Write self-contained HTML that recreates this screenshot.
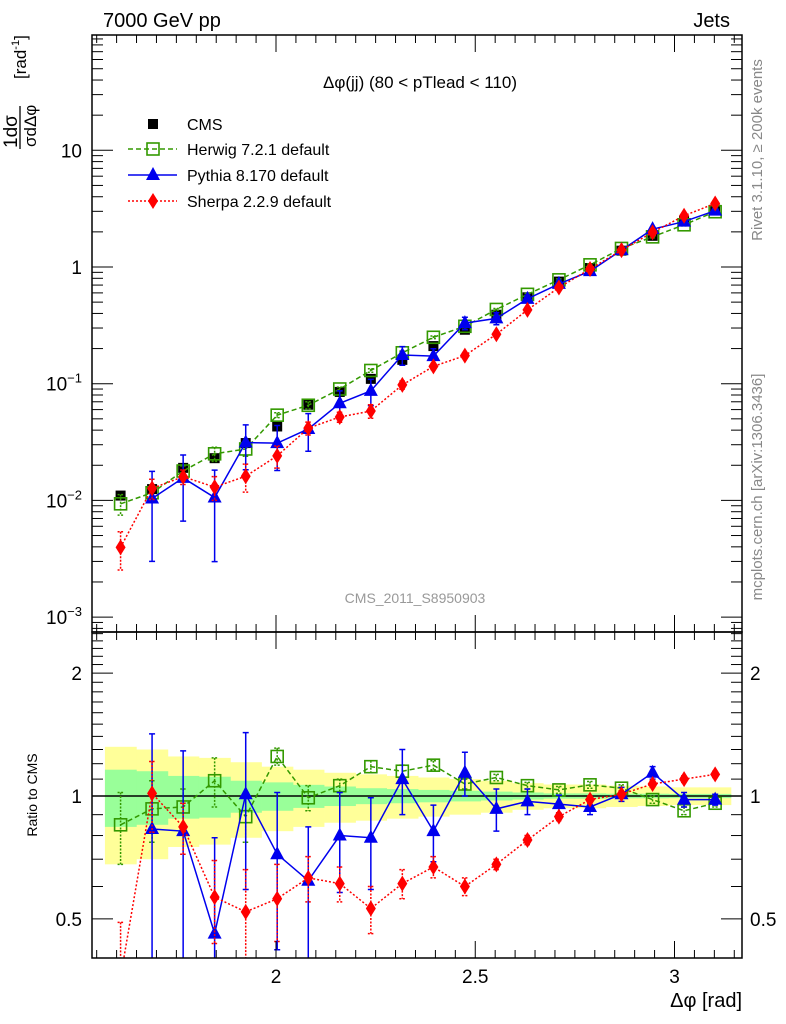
<!DOCTYPE html>
<html><head><meta charset="utf-8"><style>
html,body{margin:0;padding:0;background:#fff;overflow:hidden;width:786px;height:1024px;position:relative}
svg{display:block;font-family:"Liberation Sans",sans-serif}
</style></head><body>
<svg id="c" width="786" height="1024" viewBox="0 0 786 1024" xmlns="http://www.w3.org/2000/svg" style="position:absolute;left:0;top:0;overflow:hidden"></svg>
<script>
// ---- data ----
const binCenters = [1.610,1.689,1.767,1.846,1.924,2.003,2.081,2.160,2.238,2.317,2.395,2.474,2.553,2.631,2.710,2.788,2.867,2.945,3.024,3.102];
const cmsValues = [0.011,0.0125,0.019,0.023,0.031,0.043,0.066,0.085,0.11,0.16,0.21,0.29,0.39,0.55,0.75,0.98,1.38,1.85,2.5,3.1];
const cmsTotErr = [0.32,0.30,0.25,0.24,0.21,0.18,0.16,0.14,0.13,0.12,0.11,0.10,0.09,0.075,0.067,0.067,0.06,0.055,0.05,0.05];
const cmsStatErr = [0.16,0.15,0.12,0.115,0.09,0.08,0.065,0.055,0.045,0.04,0.035,0.03,0.025,0.02,0.015,0.015,0.013,0.013,0.012,0.012];
const herwigRatio = [0.85,0.93,0.94,1.09,0.89,1.25,0.99,1.06,1.18,1.15,1.19,1.07,1.11,1.06,1.035,1.065,1.045,0.98,0.92,0.96];
const herwigErr = [0.17,0.16,0.1,0.15,0.12,0.06,0.07,0.04,0.04,0.04,0.03,0.03,0.02,0.02,0.02,0.02,0.02,0.02,0.02,0.02];
const pythiaRatio = [null,0.83,0.82,0.46,1.01,0.72,0.62,0.80,0.79,1.10,0.82,1.14,0.93,0.97,0.955,0.94,1.01,1.14,0.98,0.98];
const pythiaErr = [0,0.59,0.47,0.33,0.42,0.3,0.22,0.22,0.2,0.2,0.13,0.14,0.11,0.07,0.05,0.04,0.04,0.04,0.04,0.03];
const sherpaRatio = [0.36,1.015,0.84,0.565,0.52,0.56,0.63,0.61,0.53,0.61,0.67,0.60,0.68,0.78,0.89,0.98,1.01,1.07,1.10,1.13];
const sherpaErr = [0.13,0.2,0.12,0.13,0.14,0.12,0.08,0.06,0.07,0.05,0.04,0.03,0.02,0.02,0.02,0.02,0.02,0.02,0.02,0.02];
const mainTicks = [0.001,0.01,0.1,1,10];
const mainTickLabels = ["10|-3","10|-2","10|-1","1","10"];
const ratioTicks = [0.5,1,2];
const ratioTickLabels = ["0.5","1","2"];
const xTicks = [2,2.5,3];
const xTickLabels = ["2","2.5","3"];

// ---- geometry ----
const L=92,R=742,T=35,MB=632,RB=958;
const binW=Math.PI/40;
const X=v=>276+(v-2)*398.5;
const YM=v=>267-116.7*Math.log10(v);
const YR=v=>796-408*Math.log10(v);
const NS="http://www.w3.org/2000/svg";
const svg=document.getElementById('c');
function mk(tag,attrs,parent){const e=document.createElementNS(NS,tag);for(const k in attrs)e.setAttribute(k,attrs[k]);(parent||svg).appendChild(e);return e;}
function txt(s,attrs,parent){const e=mk('text',attrs,parent);e.textContent=s;return e;}

const defs=mk('defs',{});
const c1=mk('clipPath',{id:'cm'},defs);mk('rect',{x:L,y:T,width:R-L,height:MB-T},c1);
const c2=mk('clipPath',{id:'cr'},defs);mk('rect',{x:L,y:MB,width:R-L,height:RB-MB},c2);

const gMain=mk('g',{'clip-path':'url(#cm)'});


const gRat=mk('g',{'clip-path':'url(#cr)'});



binCenters.forEach((c,i)=>{
  const x0=X(c-binW/2),x1=X(c+binW/2);
  const y=mk('rect',{x:x0,y:YR(1+cmsTotErr[i]),width:x1-x0+0.5,height:YR(1-cmsTotErr[i])-YR(1+cmsTotErr[i]),fill:'#ffff99'},gRat);
  
  
});
binCenters.forEach((c,i)=>{
  const x0=X(c-binW/2),x1=X(c+binW/2);
  const g=mk('rect',{x:x0,y:YR(1+cmsStatErr[i]),width:x1-x0+0.5,height:YR(1-cmsStatErr[i])-YR(1+cmsStatErr[i]),fill:'#99ff99'},gRat);
  
  
});
const one=mk('line',{x1:L,x2:R,y1:YR(1),y2:YR(1),stroke:'#000','stroke-width':1.5},gRat);



binCenters.forEach((c,i)=>{
  const v=cmsValues[i];
  const s=mk('rect',{x:X(c)-5,y:YM(v)-5,width:10,height:10,fill:'#000'},gMain);
  
  
});

function series(ratio,err,color,dash,marker,name){
  const ptsM=[],ptsR=[];
  binCenters.forEach((c,i)=>{if(ratio[i]==null)return;ptsM.push([X(c),YM(cmsValues[i]*ratio[i])]);ptsR.push([X(c),Math.min(YR(ratio[i]),RB+20)]);});
  [[gMain,ptsM,YM,true],[gRat,ptsR,YR,false]].forEach(([g,pts,yf,isMain])=>{
    const pl=mk('polyline',{points:pts.map(p=>p.join(',')).join(' '),fill:'none',stroke:color,'stroke-width':1.5,'stroke-dasharray':dash},g);
    
    
    const bottom=isMain?MB:RB;
    binCenters.forEach((c,i)=>{
      if(ratio[i]==null)return;
      const x=X(c);
      const hi=isMain?yf(cmsValues[i]*(ratio[i]+err[i])):yf(ratio[i]+err[i]);
      const lov=ratio[i]-err[i];
      let lo=lov>0?(isMain?yf(cmsValues[i]*lov):yf(lov)):bottom+2;
      lo=Math.min(lo,bottom+2);
      const eb=mk('path',{d:`M${x},${hi}V${lo}M${x-3},${hi}H${x+3}M${x-3},${lo}H${x+3}`,stroke:color,'stroke-width':1.5,'stroke-dasharray':dash==='none'?'none':'2,1.5',fill:'none'},g);
      
      
      const y=isMain?yf(cmsValues[i]*ratio[i]):yf(ratio[i]);
      if(y<bottom+10) drawMarker(g,marker,x,y,color,name);
    });
  });
}
function drawMarker(g,marker,x,y,color,name){
  let m;
  if(marker==='sq') m=mk('rect',{x:x-6,y:y-6,width:12,height:12,fill:'none',stroke:color,'stroke-width':1.6},g);
  else if(marker==='tri') m=mk('path',{d:`M${x},${y-8}L${x+7},${y+5}L${x-7},${y+5}Z`,fill:color},g);
  else m=mk('path',{d:`M${x},${y-8}L${x+5},${y}L${x},${y+8}L${x-5},${y}Z`,fill:color},g);
  
  
  return m;
}
series(herwigRatio,herwigErr,'#339900','5,3','sq','herwig');
series(pythiaRatio,pythiaErr,'#0000ee','none','tri','pythia');
series(sherpaRatio,sherpaErr,'#ff0000','2,2','dia','sherpa');

const f1=mk('rect',{x:L,y:T,width:R-L,height:MB-T,fill:'none',stroke:'#000','stroke-width':1.5});

const f2=mk('rect',{x:L,y:MB,width:R-L,height:RB-MB,fill:'none',stroke:'#000','stroke-width':1.5});


const tk=mk('g',{stroke:'#000','stroke-width':1});

for(let e=-4;e<=2;e++)for(let m=1;m<10;m++){const v=m*Math.pow(10,e);const y=YM(v);if(y<T||y>MB)continue;const len=m===1?21:11;
  mk('line',{x1:L,x2:L+len,y1:y,y2:y},tk);mk('line',{x1:R,x2:R-len,y1:y,y2:y},tk);}
for(let v=0.4;v<=2.55;v+=0.1){const y=YR(v);if(y<MB||y>RB)continue;const maj=Math.abs(v-0.5)<1e-6||Math.abs(v-1)<1e-6||Math.abs(v-2)<1e-6;const len=maj?21:11;
  mk('line',{x1:L,x2:L+len,y1:y,y2:y},tk);mk('line',{x1:R,x2:R-len,y1:y,y2:y},tk);}
for(let v=1.55;v<=3.17;v+=0.05){const x=X(v);if(x<L||x>R)continue;const maj=Math.abs(v*2-Math.round(v*2))<1e-6;const len=maj?17:8;
  [T,MB].forEach(y0=>mk('line',{x1:x,x2:x,y1:y0,y2:y0+len},tk));[MB,RB].forEach(y0=>mk('line',{x1:x,x2:x,y1:y0,y2:y0-len},tk));}

mainTicks.forEach((v,i)=>{
  const [b,s]=mainTickLabels[i].split('|');
  const t=txt('',{x:82,y:YM(v)+7,'font-size':19,'text-anchor':'end'});
  
  if(s){const a=mk('tspan',{},t);a.textContent=b;const sp=mk('tspan',{dy:-8,'font-size':13},t);sp.textContent='−'+s.slice(1);}
  else t.textContent=b;
});
ratioTicks.forEach((v,i)=>{
  const a=txt(ratioTickLabels[i],{x:82,y:YR(v)+7,'font-size':19,'text-anchor':'end'});
  
  const b=txt(ratioTickLabels[i],{x:750,y:YR(v)+7,'font-size':19});
  
});
xTicks.forEach((v,i)=>{
  const a=txt(xTickLabels[i],{x:X(v),y:983,'font-size':19,'text-anchor':'middle'});
  
});

const lg=mk('g',{});

const legendNames=["CMS","Herwig 7.2.1 default","Pythia 8.170 default","Sherpa 2.2.9 default"];
const legY=[124,149,175,201];
const sq=mk('rect',{x:148,y:119,width:10,height:10,fill:'#000'},lg);

[['#339900','5,3','sq'],['#0000ee','none','tri'],['#ff0000','2,2','dia']].forEach((s,k)=>{
  const y=legY[k+1];
  const l=mk('line',{x1:128,x2:177,y1:y,y2:y,stroke:s[0],'stroke-width':1.5,'stroke-dasharray':s[1]},lg);
  
  drawMarker(lg,s[2],153,y,s[0],'legend');
});
legendNames.forEach((n,k)=>{const t=txt(n,{x:187,y:legY[k]+6,'font-size':16},lg);});
</script>
<svg width="786" height="1024" style="position:absolute;left:0;top:0;overflow:hidden" xmlns="http://www.w3.org/2000/svg" font-family="Liberation Sans, sans-serif">
<text x="103" y="27" font-size="20">7000 GeV pp</text>
<text x="730" y="27" font-size="20" text-anchor="end">Jets</text>
<text x="420" y="88" font-size="17" text-anchor="middle">Δφ(jj) (80 &lt; pTlead &lt;  110)</text>
<text x="415" y="603" font-size="14" fill="#999" text-anchor="middle">CMS_2011_S8950903</text>
<text transform="translate(762,150) rotate(-90)" font-size="15" fill="#888" text-anchor="middle">Rivet 3.1.10, ≥ 200k events</text>
<text transform="translate(762,487) rotate(-90)" font-size="15" fill="#888" text-anchor="middle">mcplots.cern.ch [arXiv:1306.3436]</text>
<text transform="translate(37,795) rotate(-90)" font-size="14" text-anchor="middle">Ratio to CMS</text>
<text x="742" y="1007" font-size="20" text-anchor="end">Δφ [rad]</text>
<g transform="rotate(-90)">
<text x="-148" y="17" font-size="19">1dσ</text>
<line x1="-149" x2="-106" y1="20" y2="20" stroke="#000" stroke-width="1.3"/>
<text x="-147" y="36" font-size="17">σdΔφ</text>
<text x="-79" y="26" font-size="17">[rad<tspan dy="-7" font-size="11">-1</tspan><tspan dy="7">]</tspan></text>
</g>
</svg>
</body></html>
